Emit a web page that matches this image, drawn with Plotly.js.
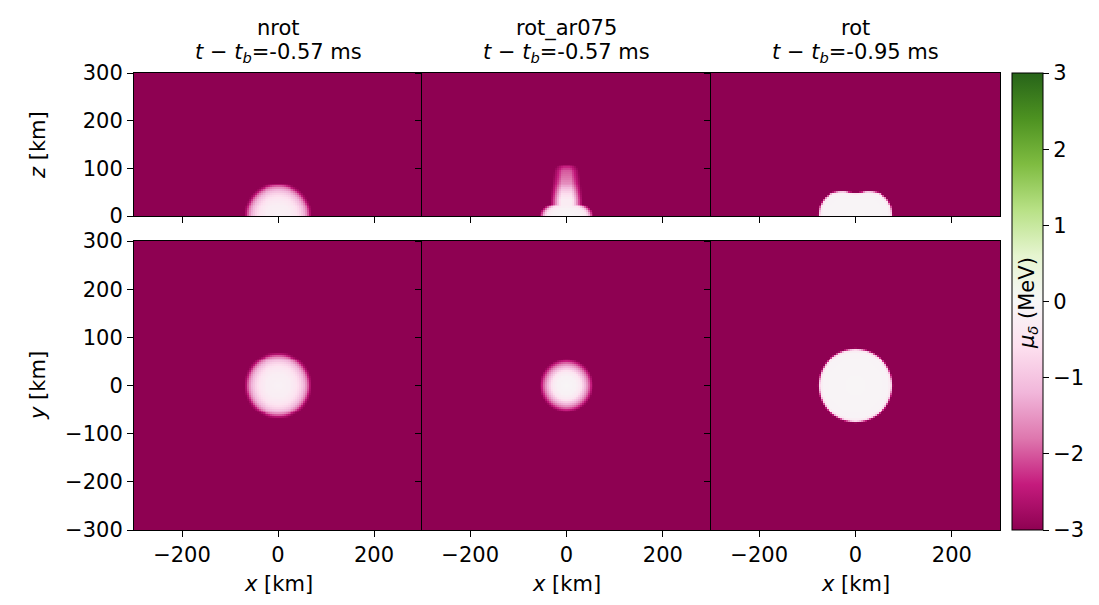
<!DOCTYPE html>
<html>
<head>
<meta charset="utf-8">
<script src="https://cdn.plot.ly/plotly-3.0.1.min.js"></script>
<style>html,body{margin:0;padding:0;background:#fff;}#plot{width:1099px;height:605px;}</style>
</head>
<body>
<div id="plot"></div>
<script>
// ---------------- data ----------------
const models = ["nrot", "rot_ar075", "rot"];
const timesMs = ["-0.57", "-0.57", "-0.95"];
const xTicks = [-200, 0, 200];
const zTicks = [0, 100, 200, 300];
const yTicks = [-300, -200, -100, 0, 100, 200, 300];
const cbarTicks = [-3, -2, -1, 0, 1, 2, 3];
const backgroundMu = -3;

// nrot: radial profile of mu_delta (MeV) vs radius (km)
const nrotR  = [0, 25, 38, 47, 54, 59, 63, 66, 70];
const nrotMu = [-0.15, -0.25, -0.45, -0.8, -1.2, -1.6, -2.1, -2.6, -3];

// rot_ar075: radial profile in xy plane
const ar075R  = [0, 20, 29, 36, 42, 47, 51, 55];
const ar075Mu = [-0.05, -0.15, -0.4, -1.0, -1.5, -2.0, -2.5, -3];
// rot_ar075: flattened base in xz plane (radius along x, km)
const ar075BaseR  = [0, 30, 40, 46, 51, 56];
const ar075BaseMu = [-0.05, -0.15, -0.4, -1.2, -2.2, -3];
// rot_ar075: plume along z axis: height (km), half-width (km), central value
const plumeZ     = [0, 35, 45, 55, 65, 80, 95, 103, 110];
const plumeHalfW = [34, 33, 32, 31, 30, 28, 26, 22, 14];
const plumeMu    = [-0.2, -0.3, -0.6, -1.0, -1.5, -1.8, -2.0, -2.4, -3];

// rot: boundary radius (km) vs polar angle from x axis (deg) in xz plane
const rotAngle = [0, 15, 30, 45, 60, 75, 90];
const rotEdgeR = [76, 76, 74, 68, 59, 51, 47];
const rotDiscR = 76;  // xy plane
// rot: profile vs normalised radius r/R
const rotRho = [0, 0.9, 0.97, 1.0, 1.03];
const rotMu  = [-0.05, -0.1, -0.5, -2.0, -3];

// ---------------- helpers ----------------
function interp(xa, ya, x) {
  if (x <= xa[0]) return ya[0];
  if (x >= xa[xa.length - 1]) return ya[ya.length - 1];
  for (let i = 1; i < xa.length; i++) {
    if (x <= xa[i]) {
      const t = (x - xa[i - 1]) / (xa[i] - xa[i - 1]);
      return ya[i - 1] + t * (ya[i] - ya[i - 1]);
    }
  }
  return ya[ya.length - 1];
}
const step = 4;
const gx = [], gzTop = [], gyBot = [];
for (let v = -300 + step / 2; v < 300; v += step) { gx.push(v); gyBot.push(v); }
for (let v = step / 2; v < 300; v += step) gzTop.push(v);

function field(ys, fn) {
  return ys.map(y => gx.map(x => fn(x, y)));
}
const fNrot = (x, y) => interp(nrotR, nrotMu, Math.hypot(x, y));
const fAr075xy = (x, y) => interp(ar075R, ar075Mu, Math.hypot(x, y));
const fAr075xz = (x, z) => {
  const base = interp(ar075BaseR, ar075BaseMu, Math.hypot(x, z * 1.8));
  const hw = interp(plumeZ, plumeHalfW, z);
  const c = interp(plumeZ, plumeMu, z);
  const s = Math.min(1, Math.max(0, (Math.abs(x) / hw - 0.35) / 0.65));
  const plume = c + (backgroundMu - c) * s;
  return Math.max(base, plume);
};
const fRotxz = (x, z) => {
  const r = Math.hypot(x, z);
  const th = Math.atan2(Math.abs(z), Math.abs(x)) * 180 / Math.PI;
  return interp(rotRho, rotMu, r / interp(rotAngle, rotEdgeR, th));
};
const fRotxy = (x, y) => interp(rotRho, rotMu, Math.hypot(x, y) / rotDiscR);

const PiYG = [
  [0.0, '#8e0152'], [0.1, '#c51b7d'], [0.2, '#de77ae'], [0.3, '#f1b6da'],
  [0.4, '#fde0ef'], [0.5, '#f7f7f7'], [0.6, '#e6f5d0'], [0.7, '#b8e186'],
  [0.8, '#7fbc41'], [0.9, '#4d9221'], [1.0, '#276419']
];

const W = 1099, H = 605;
const px = v => v / W, py = v => 1 - v / H;
const colX = [[134, 422], [422, 711], [711, 1000]];
const topY = [py(216), py(73)];
const botY = [py(530), py(241)];
const FONT = 'DejaVu Sans';
const FS = 21;

const fields = [
  field(gzTop, fNrot), field(gzTop, fAr075xz), field(gzTop, fRotxz),
  field(gyBot, fNrot), field(gyBot, fAr075xy), field(gyBot, fRotxy)
];

const traces = fields.map((z, i) => {
  const t = {
    type: 'heatmap', x: gx, y: i < 3 ? gzTop : gyBot, z: z,
    colorscale: PiYG, zmin: -3, zmax: 3, zsmooth: false,
    xaxis: i === 0 ? 'x' : 'x' + (i + 1), yaxis: i === 0 ? 'y' : 'y' + (i + 1),
    showscale: i === 0, hoverinfo: 'skip'
  };
  if (i === 0) {
    t.colorbar = {
      x: px(1012), xanchor: 'left', y: py(301.5), yanchor: 'middle',
      len: 457 / H, lenmode: 'fraction', thickness: 31, thicknessmode: 'pixels',
      outlinecolor: 'black', outlinewidth: 1, xpad: 0, ypad: 0,
      tickvals: cbarTicks, ticks: 'outside', ticklen: 6, tickcolor: 'black',
      tickfont: {family: FONT, size: FS, color: 'black'}
    };
  }
  return t;
});

const layout = {
  width: W, height: H, margin: {l: 0, r: 0, t: 0, b: 0},
  paper_bgcolor: 'white', plot_bgcolor: 'white', showlegend: false,
  font: {family: FONT, size: FS, color: 'black'},
  annotations: []
};
function axBase() {
  return {
    showline: true, mirror: true, linecolor: 'black', linewidth: 1,
    ticks: 'outside', ticklen: 6, tickwidth: 1, tickcolor: 'black',
    showgrid: false, zeroline: false, automargin: false,
    tickfont: {family: FONT, size: FS, color: 'black'}
  };
}
for (let i = 0; i < 6; i++) {
  const col = i % 3, row = i < 3 ? 0 : 1;
  const xa = Object.assign(axBase(), {
    domain: [px(colX[col][0]), px(colX[col][1])], range: [-300, 300],
    tickvals: xTicks, showticklabels: row === 1,
    anchor: i === 0 ? 'y' : 'y' + (i + 1)
  });
  const ya = Object.assign(axBase(), {
    domain: row === 0 ? topY : botY,
    range: row === 0 ? [0, 300] : [-300, 300],
    tickvals: row === 0 ? zTicks : yTicks, showticklabels: col === 0,
    anchor: i === 0 ? 'x' : 'x' + (i + 1)
  });
  layout[i === 0 ? 'xaxis' : 'xaxis' + (i + 1)] = xa;
  layout[i === 0 ? 'yaxis' : 'yaxis' + (i + 1)] = ya;
}
const centers = [278, 566.5, 855.5];
models.forEach((m, c) => {
  layout.annotations.push({
    xref: 'paper', yref: 'paper', x: px(centers[c]), y: py(28), xanchor: 'center', yanchor: 'middle',
    text: m, showarrow: false, font: {family: FONT, size: FS}
  });
  layout.annotations.push({
    xref: 'paper', yref: 'paper', x: px(centers[c]), y: py(53), xanchor: 'center', yanchor: 'middle',
    text: '<i>t</i> − <i>t</i><sub><i>b</i></sub>=' + timesMs[c] + ' ms', showarrow: false, font: {family: FONT, size: FS}
  });
  layout.annotations.push({
    xref: 'paper', yref: 'paper', x: px(centers[c]), y: py(584), xanchor: 'center', yanchor: 'middle',
    text: '<i>x</i> [km]', showarrow: false, font: {family: FONT, size: FS}
  });
});
layout.annotations.push({
  xref: 'paper', yref: 'paper', x: px(38), y: py(145), xanchor: 'center', yanchor: 'middle',
  text: '<i>z</i> [km]', textangle: -90, showarrow: false, font: {family: FONT, size: FS}
});
layout.annotations.push({
  xref: 'paper', yref: 'paper', x: px(38), y: py(386), xanchor: 'center', yanchor: 'middle',
  text: '<i>y</i> [km]', textangle: -90, showarrow: false, font: {family: FONT, size: FS}
});
layout.annotations.push({
  xref: 'paper', yref: 'paper', x: px(1028), y: py(303), xanchor: 'center', yanchor: 'middle',
  text: '<i>μ</i><sub><i>δ</i></sub> (MeV)', textangle: -90, showarrow: false, font: {family: FONT, size: FS}
});

Plotly.newPlot('plot', traces, layout, {staticPlot: true, displayModeBar: false});
</script>
</body>
</html>
